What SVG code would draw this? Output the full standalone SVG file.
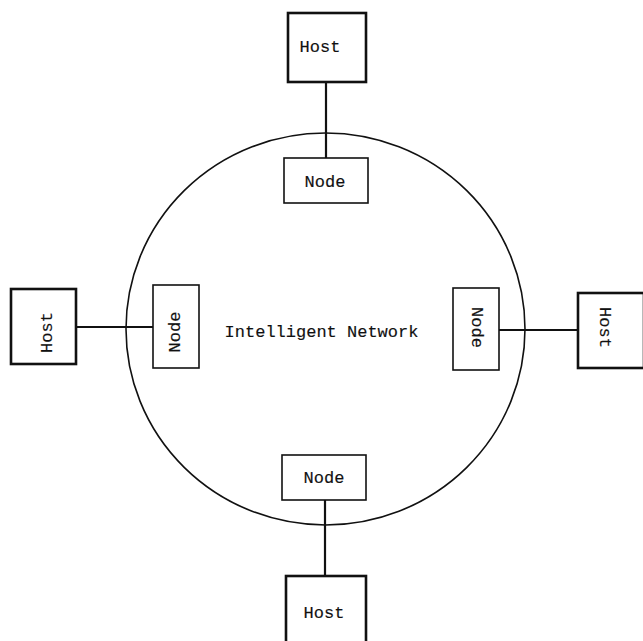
<svg xmlns="http://www.w3.org/2000/svg" width="643" height="641" viewBox="0 0 643 641">
  <style>
    .host { fill: #fff; stroke: #111; stroke-width: 2.6; }
    .node { fill: #fff; stroke: #111; stroke-width: 1.6; }
    .ring { fill: none; stroke: #111; stroke-width: 1.6; }
    .link { stroke: #111; stroke-width: 2.2; fill: none; }
    text { font-family: "Liberation Mono", "DejaVu Sans Mono", monospace; font-size: 17px; fill: #111; stroke: #111; stroke-width: 0.15; text-anchor: middle; }
  </style>
  <rect width="643" height="641" fill="#fff"/>

  <!-- network ring -->
  <g id="network">
    <ellipse class="ring" cx="325.5" cy="329" rx="199.5" ry="196"/>
    <text x="321.5" y="337">Intelligent Network</text>
  </g>

  <!-- host-to-node links -->
  <g id="connectors">
    <line class="link" x1="326" y1="82" x2="326" y2="158"/>
    <line class="link" x1="76" y1="327" x2="153" y2="327"/>
    <line class="link" x1="499" y1="330" x2="578" y2="330"/>
    <line class="link" x1="325" y1="500" x2="325" y2="576"/>
  </g>

  <g id="host-top">
    <rect class="host" x="288" y="13" width="78" height="69"/>
    <text x="320" y="52">Host</text>
  </g>
  <g id="node-top">
    <rect class="node" x="284" y="158" width="84" height="45"/>
    <text x="325" y="187">Node</text>
  </g>

  <g id="host-left">
    <rect class="host" x="11" y="289" width="65" height="75"/>
    <text transform="translate(52 332.5) rotate(-90)">Host</text>
  </g>
  <g id="node-left">
    <rect class="node" x="153" y="285" width="46" height="83"/>
    <text transform="translate(180 332) rotate(-90)">Node</text>
  </g>

  <g id="node-right">
    <rect class="node" x="453" y="288" width="46" height="82"/>
    <text transform="translate(472 327.5) rotate(90)">Node</text>
  </g>
  <g id="host-right">
    <rect class="host" x="578" y="293" width="66" height="75"/>
    <text transform="translate(600 327.5) rotate(90)">Host</text>
  </g>

  <g id="node-bottom">
    <rect class="node" x="282" y="455" width="84" height="45"/>
    <text x="324" y="483">Node</text>
  </g>
  <g id="host-bottom">
    <rect class="host" x="286" y="576" width="80" height="80"/>
    <text x="324" y="618">Host</text>
  </g>
</svg>
